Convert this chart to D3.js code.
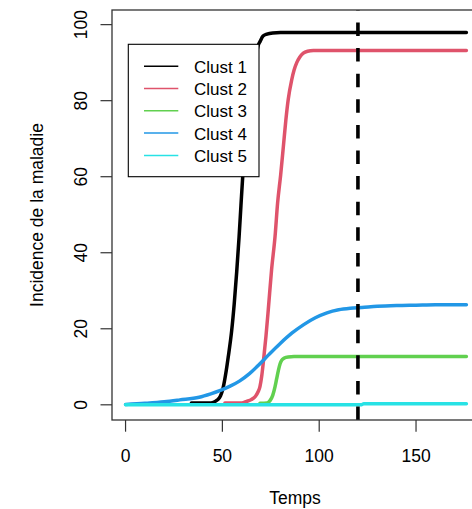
<!DOCTYPE html>
<html>
<head>
<meta charset="utf-8">
<script src="https://cdn.jsdelivr.net/npm/d3@7"></script>
<style>
  body { margin: 0; background: #fff; }
  svg text { font-family: "Liberation Sans", Arial, sans-serif; fill: #000; }
</style>
</head>
<body>
<div id="chart"></div>
<script>
// data: [time, incidence]
const clusters = ["Clust 1", "Clust 2", "Clust 3", "Clust 4", "Clust 5"];
const colors = ["#000000", "#DF536B", "#61D04F", "#2297E6", "#28E2E5"];

const clust1 = [[34,0.5],[44,0.5],[46,0.8],[47.5,1.3],[49,2.3],[50.4,4.5],[52,9],[53,12.5],[54.8,19.5],[56.1,26.5],[57.4,35],[58.6,44],[59.6,52.5],[60.5,60],[62,69],[64,79],[66,87],[67.5,92],[68.5,94.5],[69.5,95.6],[71,97],[73,97.5],[76,97.8],[80,97.9],[176,97.9]];
const clust2 = [[51.3,0.45],[60,0.5],[62.5,0.9],[65,1.4],[67,2.2],[68.5,3.5],[69.4,4.8],[70.3,7.5],[71.1,11],[72.5,18],[73.7,25],[75.4,35.5],[77.2,44.3],[78.5,53],[80.1,60.5],[81.5,68],[82.8,75],[84,80.3],[85.8,85.5],[87,88],[88.4,90],[90,91.5],[91.8,92.5],[94,93],[97,93.2],[176,93.2]];
const clust3 = [[69.4,0.4],[73,0.5],[74.6,1.1],[76,2.5],[77.2,4.8],[78,6.8],[78.9,9],[79.8,10.8],[80.6,11.7],[82,12.3],[84,12.6],[87,12.7],[176,12.7]];
const clust4 = [[0,0.1],[10,0.4],[20,0.8],[28,1.3],[38,2.0],[44,2.9],[49,3.8],[54,4.9],[59,6.3],[64,8.2],[69,10.6],[74,13.2],[80,16.2],[86,18.9],[92,21.1],[98,22.9],[104,24.2],[110,25.0],[116,25.4],[122,25.6],[130,25.9],[140,26.1],[150,26.2],[160,26.3],[176,26.3]];
const clust5 = [[0,0.05],[122,0.05],[123,0.3],[176,0.3]];

const xTicks = [0, 50, 100, 150];
const yTicks = [0, 20, 40, 60, 80, 100];
const cutTime = 120;

const w = 472;
const h = 509;
const m = {left: 112, right: 478, top: 10, bottom: 420};

const x = d3.scaleLinear().domain([-7, 182]).range([m.left, m.right]);
const y = d3.scaleLinear().domain([-3.994, 103.85]).range([m.bottom, m.top]);

const svg = d3.select("#chart").append("svg")
	.attr("width", w)
	.attr("height", h);

// curves
const line = d3.line()
	.x(d => x(d[0]))
	.y(d => y(d[1]))
	.curve(d3.curveMonotoneX);

const series = [clust1, clust2, clust3, clust4, clust5];

svg.selectAll(".curve")
	.data(series)
	.enter()
	.append("path")
	.attr("class", "curve")
	.attr("d", line)
	.attr("fill", "none")
	.attr("stroke", (d, i) => colors[i])
	.attr("stroke-width", 3.5)
	.attr("stroke-linejoin", "round")
	.attr("stroke-linecap", "round");

// vertical dashed line
svg.append("line")
	.attr("x1", x(cutTime)).attr("x2", x(cutTime))
	.attr("y1", m.bottom).attr("y2", m.top)
	.attr("stroke", "#000")
	.attr("stroke-width", 3.6)
	.attr("stroke-dasharray", "13.5,12.1");

// box
svg.append("rect")
	.attr("x", m.left).attr("y", m.top)
	.attr("width", m.right - m.left).attr("height", m.bottom - m.top)
	.attr("fill", "none")
	.attr("stroke", "#333")
	.attr("stroke-width", 1.3);

// x axis
const xAxis = svg.append("g");
xAxis.selectAll("line")
	.data(xTicks)
	.enter()
	.append("line")
	.attr("x1", d => x(d)).attr("x2", d => x(d))
	.attr("y1", m.bottom).attr("y2", m.bottom + 11.7)
	.attr("stroke", "#333").attr("stroke-width", 1.2);
xAxis.selectAll("text")
	.data(xTicks)
	.enter()
	.append("text")
	.attr("x", d => x(d))
	.attr("y", 461.5)
	.attr("text-anchor", "middle")
	.style("font-size", "17.5px")
	.text(d => d);

// y axis
const yAxis = svg.append("g");
yAxis.selectAll("line")
	.data(yTicks)
	.enter()
	.append("line")
	.attr("x1", m.left - 11.5).attr("x2", m.left)
	.attr("y1", d => y(d)).attr("y2", d => y(d))
	.attr("stroke", "#333").attr("stroke-width", 1.2);
yAxis.selectAll("text")
	.data(yTicks)
	.enter()
	.append("text")
	.attr("transform", d => `translate(87,${y(d)}) rotate(-90)`)
	.attr("text-anchor", "middle")
	.style("font-size", "17.5px")
	.text(d => d);

// axis titles
svg.append("text")
	.attr("x", 295)
	.attr("y", 503.5)
	.attr("text-anchor", "middle")
	.style("font-size", "17.5px")
	.text("Temps");

svg.append("text")
	.attr("transform", `translate(43,${(m.top + m.bottom) / 2}) rotate(-90)`)
	.attr("text-anchor", "middle")
	.style("font-size", "17.5px")
	.text("Incidence de la maladie");

// legend
const legend = svg.append("g");
legend.append("rect")
	.attr("x", 128.3).attr("y", 44.3)
	.attr("width", 130.7).attr("height", 132.4)
	.attr("fill", "#fff")
	.attr("stroke", "#000")
	.attr("stroke-width", 1.1);

const rows = legend.selectAll(".row")
	.data(clusters)
	.enter()
	.append("g")
	.attr("class", "row")
	.attr("transform", (d, i) => `translate(0,${66.2 + i * 22.3})`);

rows.append("line")
	.attr("x1", 144).attr("x2", 178.3)
	.attr("stroke", (d, i) => colors[i])
	.attr("stroke-width", 1.5);

rows.append("text")
	.attr("x", 194)
	.attr("y", 6.5)
	.style("font-size", "17px")
	.text(d => d);
</script>
</body>
</html>
